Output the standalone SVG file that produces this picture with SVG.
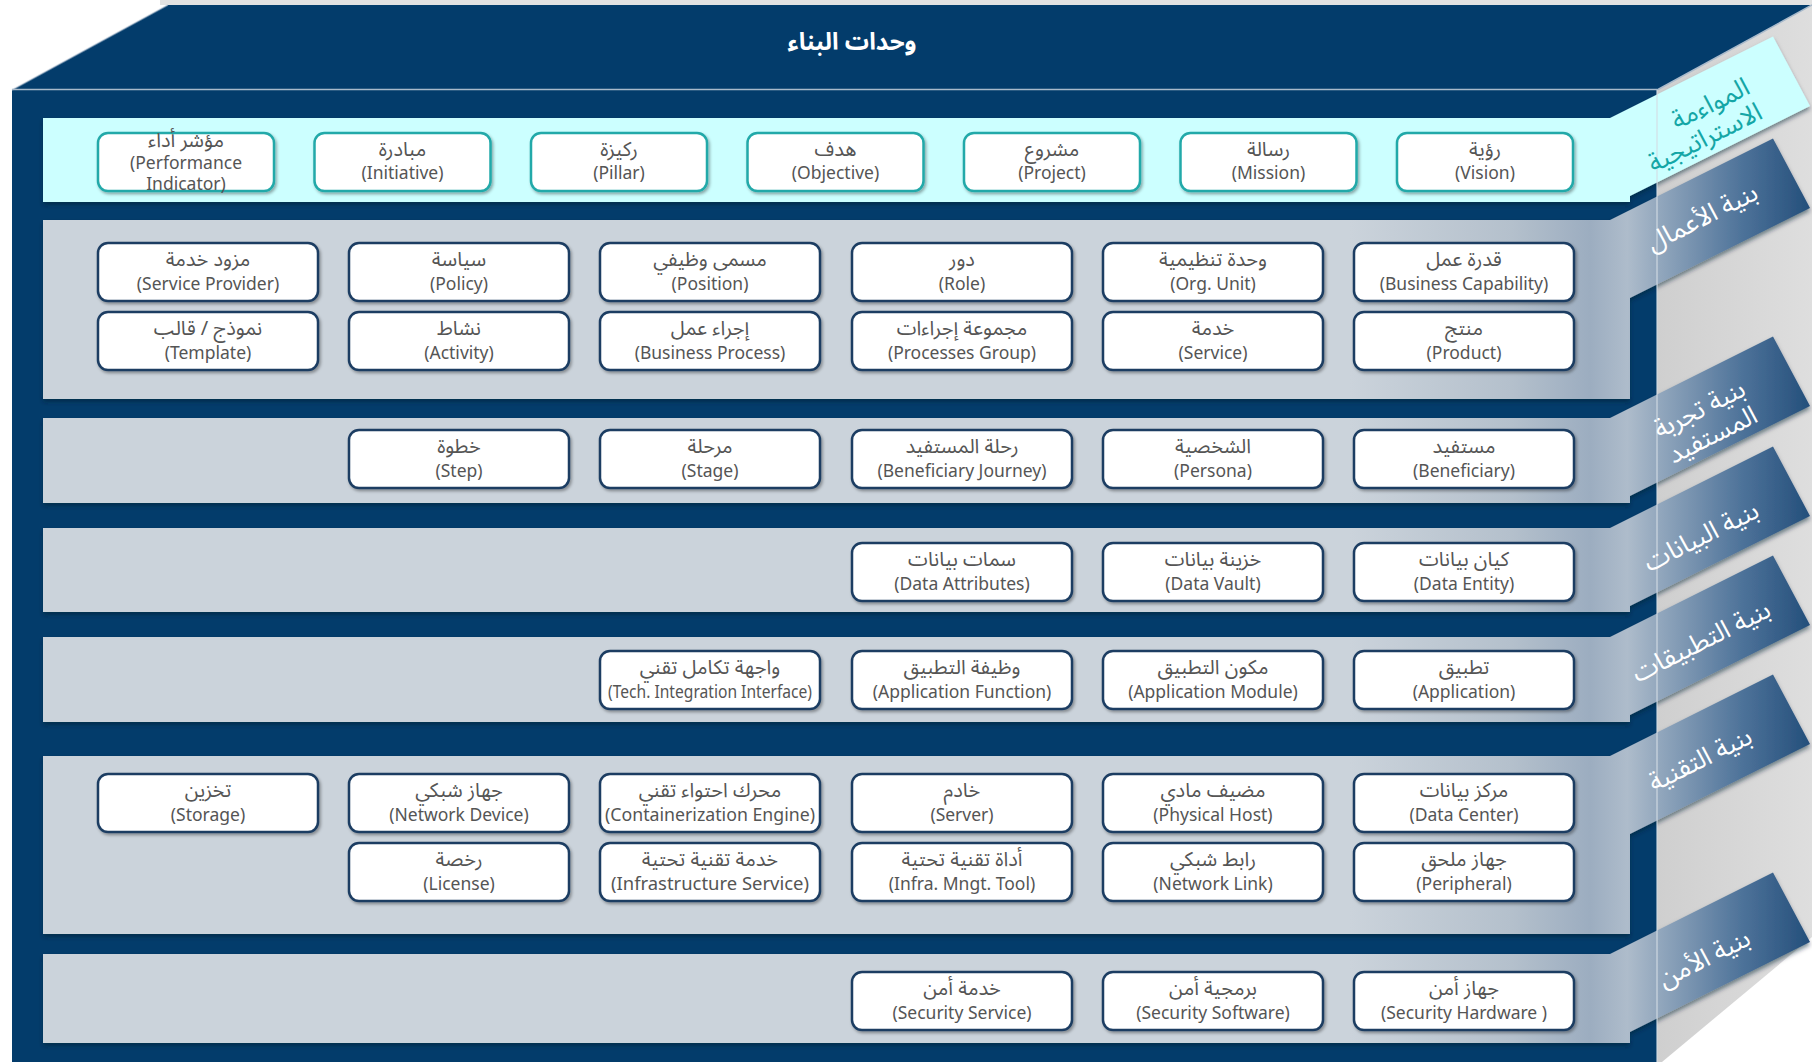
<svg xmlns="http://www.w3.org/2000/svg" width="1812" height="1062" viewBox="0 0 1812 1062">
<style>
  .navy{fill:#033C6B}
  .band{fill:url(#bandGrad);filter:url(#bandShadow)}
  .cyanband{fill:#CCFFFF;filter:url(#bandShadow)}
  .box{fill:#FFFFFF;stroke:#1C3D62;stroke-width:2.5;filter:url(#boxShadow)}
  .sbox{fill:#FFFFFF;stroke:#22A9A9;stroke-width:2.5;filter:url(#boxShadow)}
  .ar{font-family:"Noto Sans","Noto Sans Arabic","DejaVu Sans",sans-serif;font-size:20px;fill:#555555;text-anchor:middle}
  .en{font-family:"Noto Sans","DejaVu Sans",sans-serif;font-size:17.5px;fill:#555555;text-anchor:middle}
  .title{font-family:"Noto Sans","Noto Sans Arabic","DejaVu Sans",sans-serif;font-size:24px;font-weight:bold;fill:#FFFFFF;text-anchor:middle}
  .rib{font-family:"Noto Sans","Noto Sans Arabic","DejaVu Sans",sans-serif;font-size:26px;fill:#FFFFFF;text-anchor:middle}
  .ribc{font-family:"Noto Sans","Noto Sans Arabic","DejaVu Sans",sans-serif;font-size:26px;fill:#14A6A6}
  .edge{stroke:#A9BACB;stroke-width:1.5;fill:none}
</style>
<defs>
  <linearGradient id="bandGrad" gradientUnits="userSpaceOnUse" x1="1350" y1="0" x2="1812" y2="0">
    <stop offset="0" stop-color="#CBD3DB"/>
    <stop offset="0.35" stop-color="#B4C0CC"/>
    <stop offset="0.52" stop-color="#9CADC0"/>
    <stop offset="0.6" stop-color="#AEBCCB"/>
    <stop offset="0.68" stop-color="#8EA4BB"/>
    <stop offset="0.85" stop-color="#4D7299"/>
    <stop offset="1" stop-color="#234E7A"/>
  </linearGradient>
  <linearGradient id="sideGrad" gradientUnits="userSpaceOnUse" x1="1657" y1="0" x2="1812" y2="0">
    <stop offset="0" stop-color="#CFCFCF"/>
    <stop offset="1" stop-color="#DEDEDE"/>
  </linearGradient>
  <filter id="boxShadow" x="-10%" y="-20%" width="120%" height="150%">
    <feDropShadow dx="1.5" dy="2" stdDeviation="1.5" flood-color="#000" flood-opacity="0.35"/>
  </filter>
  <filter id="bandShadow" x="-5%" y="-10%" width="110%" height="125%">
    <feDropShadow dx="0" dy="3" stdDeviation="2" flood-color="#001A33" flood-opacity="0.5"/>
  </filter>
</defs>

<rect x="0" y="0" width="1812" height="1062" fill="#FFFFFF"/>
<line x1="160" y1="2.5" x2="1812" y2="2.5" stroke="#E2E2E2" stroke-width="5"/>

<!-- box faces -->
<polygon points="1657,90 1812,5 1812,937 1662,1062 1657,1062" fill="url(#sideGrad)"/>
<polygon class="navy" points="168,5 1812,5 1657,90 12,90"/>
<rect class="navy" x="12" y="90" width="1645" height="972"/>
<line class="edge" x1="12" y1="89.5" x2="1657" y2="89.5"/>
<line class="edge" x1="168" y1="5" x2="12" y2="90" stroke-opacity="0.5"/>
<line class="edge" x1="1812" y1="5" x2="1657" y2="90"/>
<text class="title" x="852" y="50" direction="rtl">وحدات البناء</text>

<!-- layer bands with ribbons -->
<g id="bands">
  <polygon id="band-strategy" class="cyanband" points="43,118 1610,118 1773,36.5 1810,106 1630,196 1630,202 43,202"/>
  <polygon id="band-business" class="band" points="43,220 1610,220 1773,138.5 1810,208 1630,298 1630,399 43,399"/>
  <polygon id="band-beneficiary" class="band" points="43,418 1610,418 1773,336.5 1810,406 1630,496 1630,503 43,503"/>
  <polygon id="band-data" class="band" points="43,528 1610,528 1773,446.5 1810,516 1630,606 1630,612 43,612"/>
  <polygon id="band-apps" class="band" points="43,637 1610,637 1773,555.5 1810,625 1630,715 1630,722 43,722"/>
  <polygon id="band-tech" class="band" points="43,756 1610,756 1773,674.5 1810,744 1630,834 1630,934 43,934"/>
  <polygon id="band-security" class="band" points="43,954 1610,954 1773,872.5 1810,942 1630,1032 1630,1043 43,1043"/>
</g>
<line x1="1657" y1="90" x2="1657" y2="1062" stroke="#D4DCE4" stroke-width="2" stroke-opacity="0.55"/>

<!-- ribbon labels -->
<g id="ribbon-labels">
  <g transform="translate(1700,124) rotate(-26.57)">
    <text class="ribc" x="60" y="-5" text-anchor="end" direction="ltr">المواءمة</text>
    <text class="ribc" x="60" y="23" text-anchor="end" direction="ltr">الاستراتيجية</text>
  </g>
  <g transform="translate(1702,217) rotate(-26.57)"><text class="rib" x="0" y="9" direction="rtl">بنية الأعمال</text></g>
  <g transform="translate(1706,422) rotate(-26.57)">
    <text class="rib" x="0" y="-6" direction="rtl">بنية تجربة</text>
    <text class="rib" x="0" y="23" direction="rtl">المستفيد</text>
  </g>
  <g transform="translate(1701,536) rotate(-26.57)"><text class="rib" x="0" y="9" direction="rtl">بنية البيانات</text></g>
  <g transform="translate(1701,641) rotate(-26.57)"><text class="rib" x="0" y="9" direction="rtl">بنية التطبيقات</text></g>
  <g transform="translate(1700,759) rotate(-26.57)"><text class="rib" x="0" y="9" direction="rtl">بنية التقنية</text></g>
  <g transform="translate(1704,958) rotate(-26.57)"><text class="rib" x="0" y="9" direction="rtl">بنية الأمن</text></g>
</g>

<!-- strategic alignment nodes -->
<g id="n-performance-indicator"><rect class="sbox" x="98" y="133" width="176" height="58" rx="10"/><text class="ar" x="186" y="147" direction="rtl">مؤشر أداء</text><text class="en" x="186" y="169">(Performance</text><text class="en" x="186" y="190">Indicator)</text></g>
<g id="n-initiative"><rect class="sbox" x="314.5" y="133" width="176" height="58" rx="10"/><text class="ar" x="402.5" y="156" direction="rtl">مبادرة</text><text class="en" x="402.5" y="179">(Initiative)</text></g>
<g id="n-pillar"><rect class="sbox" x="531" y="133" width="176" height="58" rx="10"/><text class="ar" x="619" y="156" direction="rtl">ركيزة</text><text class="en" x="619" y="179">(Pillar)</text></g>
<g id="n-objective"><rect class="sbox" x="747.5" y="133" width="176" height="58" rx="10"/><text class="ar" x="835.5" y="156" direction="rtl">هدف</text><text class="en" x="835.5" y="179">(Objective)</text></g>
<g id="n-project"><rect class="sbox" x="964" y="133" width="176" height="58" rx="10"/><text class="ar" x="1052" y="156" direction="rtl">مشروع</text><text class="en" x="1052" y="179">(Project)</text></g>
<g id="n-mission"><rect class="sbox" x="1180.5" y="133" width="176" height="58" rx="10"/><text class="ar" x="1268.5" y="156" direction="rtl">رسالة</text><text class="en" x="1268.5" y="179">(Mission)</text></g>
<g id="n-vision"><rect class="sbox" x="1397" y="133" width="176" height="58" rx="10"/><text class="ar" x="1485" y="156" direction="rtl">رؤية</text><text class="en" x="1485" y="179">(Vision)</text></g>

<!-- business nodes -->
<g id="n-service-provider"><rect class="box" x="98" y="243" width="220" height="58" rx="10"/><text class="ar" x="208" y="266" direction="rtl">مزود خدمة</text><text class="en" x="208" y="290">(Service Provider)</text></g>
<g id="n-policy"><rect class="box" x="349" y="243" width="220" height="58" rx="10"/><text class="ar" x="459" y="266" direction="rtl">سياسة</text><text class="en" x="459" y="290">(Policy)</text></g>
<g id="n-position"><rect class="box" x="600" y="243" width="220" height="58" rx="10"/><text class="ar" x="710" y="266" direction="rtl">مسمى وظيفي</text><text class="en" x="710" y="290">(Position)</text></g>
<g id="n-role"><rect class="box" x="852" y="243" width="220" height="58" rx="10"/><text class="ar" x="962" y="266" direction="rtl">دور</text><text class="en" x="962" y="290">(Role)</text></g>
<g id="n-org-unit"><rect class="box" x="1103" y="243" width="220" height="58" rx="10"/><text class="ar" x="1213" y="266" direction="rtl">وحدة تنظيمية</text><text class="en" x="1213" y="290">(Org. Unit)</text></g>
<g id="n-business-capability"><rect class="box" x="1354" y="243" width="220" height="58" rx="10"/><text class="ar" x="1464" y="266" direction="rtl">قدرة عمل</text><text class="en" x="1464" y="290">(Business Capability)</text></g>

<g id="n-template"><rect class="box" x="98" y="312" width="220" height="58" rx="10"/><text class="ar" x="208" y="335" direction="rtl">نموذج / قالب</text><text class="en" x="208" y="359">(Template)</text></g>
<g id="n-activity"><rect class="box" x="349" y="312" width="220" height="58" rx="10"/><text class="ar" x="459" y="335" direction="rtl">نشاط</text><text class="en" x="459" y="359">(Activity)</text></g>
<g id="n-business-process"><rect class="box" x="600" y="312" width="220" height="58" rx="10"/><text class="ar" x="710" y="335" direction="rtl">إجراء عمل</text><text class="en" x="710" y="359">(Business Process)</text></g>
<g id="n-processes-group"><rect class="box" x="852" y="312" width="220" height="58" rx="10"/><text class="ar" x="962" y="335" direction="rtl">مجموعة إجراءات</text><text class="en" x="962" y="359">(Processes Group)</text></g>
<g id="n-service"><rect class="box" x="1103" y="312" width="220" height="58" rx="10"/><text class="ar" x="1213" y="335" direction="rtl">خدمة</text><text class="en" x="1213" y="359">(Service)</text></g>
<g id="n-product"><rect class="box" x="1354" y="312" width="220" height="58" rx="10"/><text class="ar" x="1464" y="335" direction="rtl">منتج</text><text class="en" x="1464" y="359">(Product)</text></g>

<!-- beneficiary experience nodes -->
<g id="n-step"><rect class="box" x="349" y="430" width="220" height="58" rx="10"/><text class="ar" x="459" y="453" direction="rtl">خطوة</text><text class="en" x="459" y="477">(Step)</text></g>
<g id="n-stage"><rect class="box" x="600" y="430" width="220" height="58" rx="10"/><text class="ar" x="710" y="453" direction="rtl">مرحلة</text><text class="en" x="710" y="477">(Stage)</text></g>
<g id="n-beneficiary-journey"><rect class="box" x="852" y="430" width="220" height="58" rx="10"/><text class="ar" x="962" y="453" direction="rtl">رحلة المستفيد</text><text class="en" x="962" y="477">(Beneficiary Journey)</text></g>
<g id="n-persona"><rect class="box" x="1103" y="430" width="220" height="58" rx="10"/><text class="ar" x="1213" y="453" direction="rtl">الشخصية</text><text class="en" x="1213" y="477">(Persona)</text></g>
<g id="n-beneficiary"><rect class="box" x="1354" y="430" width="220" height="58" rx="10"/><text class="ar" x="1464" y="453" direction="rtl">مستفيد</text><text class="en" x="1464" y="477">(Beneficiary)</text></g>

<!-- data nodes -->
<g id="n-data-attributes"><rect class="box" x="852" y="543" width="220" height="58" rx="10"/><text class="ar" x="962" y="566" direction="rtl">سمات بيانات</text><text class="en" x="962" y="590">(Data Attributes)</text></g>
<g id="n-data-vault"><rect class="box" x="1103" y="543" width="220" height="58" rx="10"/><text class="ar" x="1213" y="566" direction="rtl">خزينة بيانات</text><text class="en" x="1213" y="590">(Data Vault)</text></g>
<g id="n-data-entity"><rect class="box" x="1354" y="543" width="220" height="58" rx="10"/><text class="ar" x="1464" y="566" direction="rtl">كيان بيانات</text><text class="en" x="1464" y="590">(Data Entity)</text></g>

<!-- application nodes -->
<g id="n-tech-integration-interface"><rect class="box" x="600" y="651" width="220" height="58" rx="10"/><text class="ar" x="710" y="674" direction="rtl">واجهة تكامل تقني</text><text class="en" x="710" y="698" textLength="204" lengthAdjust="spacingAndGlyphs">(Tech. Integration Interface)</text></g>
<g id="n-application-function"><rect class="box" x="852" y="651" width="220" height="58" rx="10"/><text class="ar" x="962" y="674" direction="rtl">وظيفة التطبيق</text><text class="en" x="962" y="698">(Application Function)</text></g>
<g id="n-application-module"><rect class="box" x="1103" y="651" width="220" height="58" rx="10"/><text class="ar" x="1213" y="674" direction="rtl">مكون التطبيق</text><text class="en" x="1213" y="698">(Application Module)</text></g>
<g id="n-application"><rect class="box" x="1354" y="651" width="220" height="58" rx="10"/><text class="ar" x="1464" y="674" direction="rtl">تطبيق</text><text class="en" x="1464" y="698">(Application)</text></g>

<!-- technology nodes -->
<g id="n-storage"><rect class="box" x="98" y="774" width="220" height="58" rx="10"/><text class="ar" x="208" y="797" direction="rtl">تخزين</text><text class="en" x="208" y="821">(Storage)</text></g>
<g id="n-network-device"><rect class="box" x="349" y="774" width="220" height="58" rx="10"/><text class="ar" x="459" y="797" direction="rtl">جهاز شبكي</text><text class="en" x="459" y="821">(Network Device)</text></g>
<g id="n-containerization-engine"><rect class="box" x="600" y="774" width="220" height="58" rx="10"/><text class="ar" x="710" y="797" direction="rtl">محرك احتواء تقني</text><text class="en" x="710" y="821" textLength="210" lengthAdjust="spacingAndGlyphs">(Containerization  Engine)</text></g>
<g id="n-server"><rect class="box" x="852" y="774" width="220" height="58" rx="10"/><text class="ar" x="962" y="797" direction="rtl">خادم</text><text class="en" x="962" y="821">(Server)</text></g>
<g id="n-physical-host"><rect class="box" x="1103" y="774" width="220" height="58" rx="10"/><text class="ar" x="1213" y="797" direction="rtl">مضيف مادي</text><text class="en" x="1213" y="821">(Physical Host)</text></g>
<g id="n-data-center"><rect class="box" x="1354" y="774" width="220" height="58" rx="10"/><text class="ar" x="1464" y="797" direction="rtl">مركز بيانات</text><text class="en" x="1464" y="821">(Data Center)</text></g>

<g id="n-license"><rect class="box" x="349" y="843" width="220" height="58" rx="10"/><text class="ar" x="459" y="866" direction="rtl">رخصة</text><text class="en" x="459" y="890">(License)</text></g>
<g id="n-infrastructure-service"><rect class="box" x="600" y="843" width="220" height="58" rx="10"/><text class="ar" x="710" y="866" direction="rtl">خدمة تقنية تحتية</text><text class="en" x="710" y="890" textLength="198" lengthAdjust="spacingAndGlyphs">(Infrastructure Service)</text></g>
<g id="n-infra-mngt-tool"><rect class="box" x="852" y="843" width="220" height="58" rx="10"/><text class="ar" x="962" y="866" direction="rtl">أداة تقنية تحتية</text><text class="en" x="962" y="890">(Infra. Mngt. Tool)</text></g>
<g id="n-network-link"><rect class="box" x="1103" y="843" width="220" height="58" rx="10"/><text class="ar" x="1213" y="866" direction="rtl">رابط شبكي</text><text class="en" x="1213" y="890">(Network Link)</text></g>
<g id="n-peripheral"><rect class="box" x="1354" y="843" width="220" height="58" rx="10"/><text class="ar" x="1464" y="866" direction="rtl">جهاز ملحق</text><text class="en" x="1464" y="890">(Peripheral)</text></g>

<!-- security nodes -->
<g id="n-security-service"><rect class="box" x="852" y="972" width="220" height="58" rx="10"/><text class="ar" x="962" y="995" direction="rtl">خدمة أمن</text><text class="en" x="962" y="1019">(Security Service)</text></g>
<g id="n-security-software"><rect class="box" x="1103" y="972" width="220" height="58" rx="10"/><text class="ar" x="1213" y="995" direction="rtl">برمجية أمن</text><text class="en" x="1213" y="1019">(Security Software)</text></g>
<g id="n-security-hardware"><rect class="box" x="1354" y="972" width="220" height="58" rx="10"/><text class="ar" x="1464" y="995" direction="rtl">جهاز أمن</text><text class="en" x="1464" y="1019">(Security Hardware )</text></g>

<g id="connectors"></g>
</svg>
